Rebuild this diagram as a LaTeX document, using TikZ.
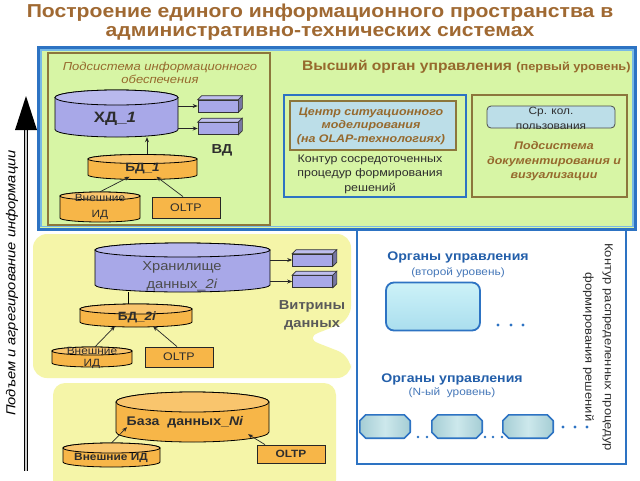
\documentclass[tikz,border=0pt]{standalone}
\usepackage{fontspec}
\setmainfont{Liberation Sans}[FakeStretch=1.13]
\usetikzlibrary{arrows.meta,calc}
\definecolor{ttl}{RGB}{160,105,50}
\definecolor{brn}{RGB}{140,118,60}
\definecolor{brntxt}{RGB}{150,105,45}
\definecolor{grn}{RGB}{215,245,165}
\definecolor{bl}{RGB}{45,115,195}
\definecolor{bllt}{RGB}{120,185,230}
\definecolor{ylw}{RGB}{245,245,168}
\definecolor{lav}{RGB}{168,168,232}
\definecolor{org}{RGB}{247,182,72}
\definecolor{lblue}{RGB}{188,222,232}
\definecolor{orgblue}{RGB}{35,95,170}
\definecolor{orgblue2}{RGB}{70,120,185}
\definecolor{dk}{RGB}{45,45,45}
\definecolor{octa}{RGB}{165,205,212}
\definecolor{octb}{RGB}{205,232,236}
\definecolor{lvla}{RGB}{170,222,238}
\definecolor{lvlb}{RGB}{205,242,248}
\newcommand\cyl[7]{%
  \filldraw[fill=#7,draw=black,line width=0.8pt] ({#2-#5},#4) arc[start angle=180,end angle=360,x radius=#5pt,y radius=#6pt] -- ({#2+#5},#3) arc[start angle=0,end angle=180,x radius=#5pt,y radius=#6pt] -- cycle;
  \filldraw[fill=#7!80!white,draw=black,line width=0.8pt] (#2,#3) ellipse[x radius=#5pt,y radius=#6pt];
  \node[inner sep=0pt,minimum width={2*#5pt},minimum height={(#4-#3+2*#6)*1pt}] (#1) at (#2,{(#3+#4)/2}) {};
}
\newcommand\dbox[3]{%
  \node[draw=black!80,fill=lav,line width=0.6pt,minimum width=40pt,minimum height=12pt,inner sep=0pt] (#1) at (#2,#3) {};
  \filldraw[fill=lav!75!white,draw=black!80,line width=0.6pt] (#1.north west) -- ++(4pt,4pt) -- ([shift={(4pt,4pt)}]#1.north east) -- (#1.north east) -- cycle;
  \filldraw[fill=lav!70!black,draw=black!80,line width=0.6pt] (#1.north east) -- ++(4pt,4pt) -- ([shift={(4pt,4pt)}]#1.south east) -- (#1.south east) -- cycle;
}
\newcommand\octn[3]{%
  \node[inner sep=0pt,minimum width=50pt,minimum height=23pt] (#1) at (#2,#3) {};
  \draw[draw=bl,line width=1.6pt,left color=octa,right color=octa,middle color=octb,line join=round]
    ([xshift=6pt]#1.north west) -- ([xshift=-6pt]#1.north east) -- ([yshift=-6pt]#1.north east) -- ([yshift=6pt]#1.south east)
    -- ([xshift=-6pt]#1.south east) -- ([xshift=6pt]#1.south west) -- ([yshift=6pt]#1.south west) -- ([yshift=-6pt]#1.north west) -- cycle;
}
\tikzset{
  ttlstyle/.style={font=\bfseries\fontsize{18.7}{20}\selectfont,text=ttl,inner sep=0pt},
  arr/.style={-{Stealth[length=5pt,width=4pt]},line width=0.7pt,draw=black!85},
  brnbox/.style={draw=brn,line width=1.2pt},
  dtxt/.style={text=dk,inner sep=0pt,align=center,font=\fontsize{11}{14.5}\selectfont},
  itbrn/.style={text=brntxt,inner sep=0pt,align=center,font=\itshape\fontsize{11.5}{13}\selectfont},
  itbrnb/.style={text=brntxt,inner sep=0pt,align=center,font=\bfseries\itshape\fontsize{11}{14.5}\selectfont},
  cyltxt/.style={text=dk,inner sep=0pt,align=center,font=\bfseries\fontsize{12}{14}\selectfont},
  smtxt/.style={text=dk,inner sep=0pt,align=center,font=\fontsize{10.5}{14}\selectfont},
  oltpbox/.style={draw=black!85,fill=org,line width=0.8pt,inner sep=0pt,text=dk,font=\fontsize{11}{13}\selectfont},
  orgh/.style={text=orgblue,inner sep=0pt,font=\bfseries\fontsize{12.5}{14}\selectfont},
  orgs/.style={text=orgblue2,inner sep=0pt,font=\fontsize{10.5}{12}\selectfont},
  lvlnode/.style={draw=bl,line width=1.8pt,rounded corners=8pt,top color=lvlb,bottom color=lvla,minimum width=94pt,minimum height=48pt,inner sep=0pt}
}
\begin{document}
\begin{tikzpicture}[x=1pt,y=-1pt]
\useasboundingbox (0,0) rectangle (640,480);
\fill[white] (0,0) rectangle (640,480);
% title
\node[ttlstyle] (title1) at (320,13) {Построение единого информационного пространства в};
\node[ttlstyle] (title2) at (320,33) {административно-технических системах};
% lower right white box
\draw[bl,line width=1.8pt,fill=white] (357,226) -- (357,464) -- (626,464) -- (626,226);
% top green box
\draw[bl,line width=3pt,fill=grn] (38.5,47.5) rectangle (635.5,229);
\draw[bllt,line width=1.2pt] (41,50) rectangle (633,226.5);
% info subsystem
\draw[brnbox] (48,53) rectangle (270,225);
\node[itbrn] (subinfo) at (160,72.5) {Подсистема информационного\\обеспечения};
\cyl{xd1}{116.5}{97.5}{129.5}{61.5}{7.5}{lav}
\node[cyltxt,font=\bfseries\fontsize{15}{17}\selectfont] (xd1t) at (115,119) {ХД\_\textit{1}};
\dbox{vd1a}{218}{106}
\dbox{vd1b}{218}{128.5}
\draw[arr] (vd1a.west -| xd1.east) -- (vd1a.west);
\draw[arr] (vd1b.west -| xd1.east) -- (vd1b.west);
\node[cyltxt,font=\bfseries\fontsize{13}{15}\selectfont] (vdt) at (222,150) {ВД};
\cyl{bd1}{142.5}{159}{175}{54.5}{4.5}{org}
\node[cyltxt] (bd1t) at (142.5,169) {БД\_\textit{1}};
\draw[arr] ([xshift=4.5pt]bd1.north) -- ([xshift=4.5pt]bd1.north |- xd1.south);
\cyl{ext1}{100}{196}{218}{40}{4}{org}
\node[smtxt,font=\fontsize{10.5}{15.5}\selectfont] (ext1t) at (100,207) {Внешние\\ИД};
\node[oltpbox,minimum width=68pt,minimum height=21pt] (oltp1) at (186,207.5) {OLTP};
\draw[arr] (ext1.north) -- ([xshift=-13pt,yshift=3pt]bd1.south);
\draw[arr] ([xshift=-3pt]oltp1.north) -- ([xshift=14pt,yshift=3pt]bd1.south);
% top level
\node[anchor=west,inner sep=0pt,text=brntxt,font=\bfseries\fontsize{13.8}{15}\selectfont] (toporg) at (302,67) {Высший орган управления {\fontsize{11.3}{12}\selectfont(первый уровень)}};
\draw[bl,line width=2pt] (284,95) rectangle (466,197);
\node[draw=brn,line width=1.2pt,fill=lblue,minimum width=166pt,minimum height=49pt,inner sep=0pt] (csm) at (373,125.5) {};
\node[itbrnb,font=\bfseries\itshape\fontsize{11}{13.5}\selectfont] (csmt) at (371,126) {Центр ситуационного\\моделирования\\(на OLAP-технологиях)};
\node[dtxt] (cont1) at (370,174) {Контур сосредоточенных\\процедур формирования\\решений};
\draw[brnbox] (472,95) rectangle (627,197);
\node[draw=black!70,line width=0.8pt,rounded corners=4pt,fill=lblue,minimum width=128pt,minimum height=22pt,inner sep=0pt] (shared) at (551,117) {};
\node[dtxt,font=\fontsize{10.5}{15}\selectfont] (sharedt) at (551,118.5) {Ср. кол.\\пользования};
\node[itbrnb] (docsub) at (554,161.5) {Подсистема\\документирования и\\визуализации};
% middle yellow area
\fill[ylw,rounded corners=14pt] (33,234) -- (351,234) -- (351,320) -- (305,338) -- (351,356) -- (351,378) -- (33,378) -- cycle;
\cyl{dw2}{182.5}{250}{285}{87.5}{7}{lav}
\node[cyltxt,font=\fontsize{13}{18}\selectfont,text=black!70] (dw2t) at (182,276) {Хранилище\\данных\_\textit{2i}};
\dbox{vm2a}{312.5}{260}
\dbox{vm2b}{312.5}{281.5}
\draw[arr] (vm2a.west -| dw2.east) -- (vm2a.west);
\draw[arr] (vm2b.west -| dw2.east) -- (vm2b.west);
\node[cyltxt,font=\bfseries\fontsize{13}{18}\selectfont,text=black!65] (vmt) at (312,315) {Витрины\\данных};
\cyl{bd2}{136}{309}{322}{56}{5}{org}
\node[cyltxt] (bd2t) at (137,317) {БД\_\textit{2i}};
\draw[line width=0.7pt] ([xshift=-8pt]bd2.north) -- ([xshift=-8pt]bd2.north |- dw2.south);
\cyl{ext2}{92}{351}{363}{40}{4}{org}
\node[smtxt,font=\fontsize{10.5}{12.5}\selectfont] (ext2t) at (92,358) {Внешние\\ИД};
\node[oltpbox,minimum width=68pt,minimum height=20pt] (oltp2) at (179,357) {OLTP};
\draw[arr] ([xshift=3pt]ext2.north) -- ([xshift=-21pt,yshift=1pt]bd2.south);
\draw[arr] ([xshift=-2pt]oltp2.north) -- ([xshift=17pt,yshift=1pt]bd2.south);
% bottom yellow area
\fill[ylw,rounded corners=12pt] (53,383) rectangle (336,492);
\cyl{dbn}{192.5}{402}{432}{76.5}{10}{org}
\node[cyltxt,font=\bfseries\fontsize{12.5}{14}\selectfont] (dbnt) at (185,422) {База\ \ данных\_\textit{Ni}};
\cyl{ext3}{111.5}{448}{462}{48.5}{5}{org}
\node[cyltxt,font=\bfseries\fontsize{10.5}{12}\selectfont] (ext3t) at (111,458) {Внешние ИД};
\node[oltpbox,minimum width=68pt,minimum height=18pt,font=\bfseries\fontsize{10.5}{12}\selectfont] (oltp3) at (291,454) {OLTP};
\draw[arr] (ext3.north) -- ([xshift=-65.5pt,yshift=15pt]dbn.south);
\draw[arr] ([xshift=-26pt]oltp3.north) -- ([xshift=55.5pt,yshift=8pt]dbn.south);
% lower right content
\node[orgh] (org2) at (458,257) {Органы управления};
\node[orgs] (org2s) at (458,273) {(второй уровень)};
\node[lvlnode] (lvl2) at (433,306.5) {};
\foreach \xx in {498,511,523} \fill[bl] (\xx,325) circle (1.7pt);
\node[orgh] (orgn) at (452,379) {Органы управления};
\node[orgs] (orgns) at (452,393) {(N-ый\ \ уровень)};
\octn{oct1}{385}{426.5}
\octn{oct2}{457}{426.5}
\octn{oct3}{528}{426.5}
\foreach \xx in {418,427} \fill[bl] (\xx,437) circle (1.4pt);
\foreach \xx in {485,493,502} \fill[bl] (\xx,437) circle (1.4pt);
\foreach \xx in {563,575,587} \fill[bl] (\xx,427) circle (1.6pt);
\node[dtxt,rotate=-90,font=\fontsize{11.5}{19.5}\selectfont] (distc) at (598,347) {Контур распределенных процедур\\формирования решений};
% left arrow
\coordinate (arrbot) at (26,471);
\coordinate (arrtop) at (26,128);
\draw[line width=0.9pt,double=gray!40,double distance=1.4pt] (arrbot) -- (arrtop);
\fill[black] (26,96) -- (15,130) -- (37,130) -- cycle;
\node[rotate=90,inner sep=0pt,font=\itshape\fontsize{13}{14}\selectfont,text=black] (lifttxt) at (12,283) {Подъем и агрегирование информации};
\end{tikzpicture}
\end{document}
